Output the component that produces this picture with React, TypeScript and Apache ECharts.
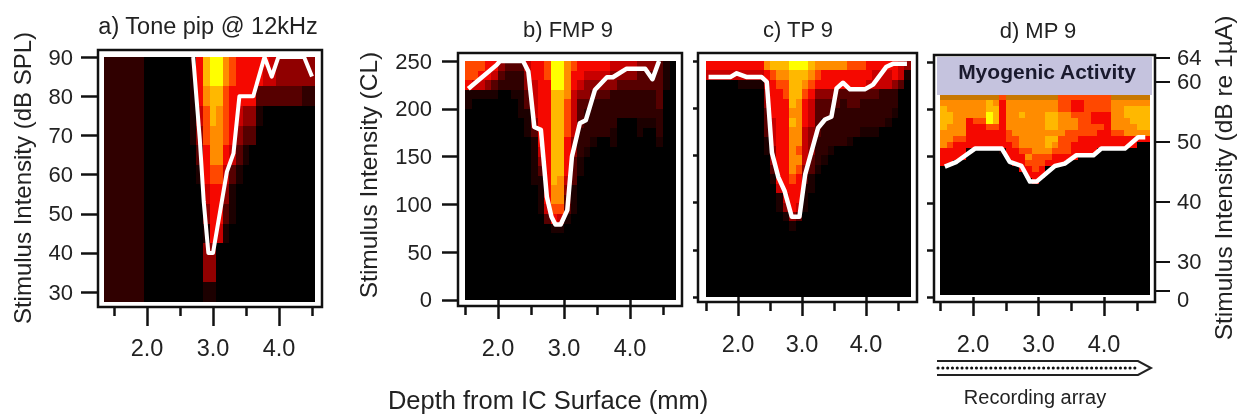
import React, { useEffect, useRef } from "react";
import * as echarts from "echarts";

const FONT = "Liberation Sans";
const INK = "#222";
const RAMP = ["#000000", "#1c0000", "#560000", "#900000", "#c80000", "#f50800", "#ff4800", "#ff8c00", "#ffb800", "#ffff00", "#c87800", "#300000"];

const majorDepth = [2, 3, 4];
const minorDepth = [1.5, 2.5, 3.5, 4.5];
const splTicks = [30, 40, 50, 60, 70, 80, 90];
const clTicks = [0, 50, 100, 150, 200, 250];
const dbTickPositions = [25.17, 30, 40, 50, 60, 64];
const dbLabelPositions = [23.83, 30, 40, 50, 60, 64];

// Each row is one intensity band, top to bottom; each character one channel on the colour ramp.
const heatA = [
  "bbbbbb00000001 5899 76555554333333",
  "bbbbbb00000001 5899 76555544333333",
  "bbbbbb00000001 5788 6 5555 2222222 bb",
  "bbbbbb00000001 468765 4331 00000000",
  "bbbbbb00000001 367765 322 000000000",
  "bbbbbb00000000 257754 21 0000000000",
  "bbbbbb00000000 1 566 4 2 1 00000000000",
  "bbbbbb00000000 0 45531 000000000000",
  "bbbbbb00000000 0355 21 000000000000",
  "bbbbbb000000000 1541 0000000000000",
  "bbbbbb000000000 33 000000000000000",
  "bbbbbb000000000 33 000000000000000",
  "bbbbbb000000000 11 000000000000000",
];
const heatB = [
  "66655 3222 4556 99 76 55555 4444 333 2 10",
  "66554 2bbb 3556 99 75 54444 3333 222 2 10",
  "54432 bbbb 3455 99 75 43333 3222 222 2 10",
  "11111 0011 2455 88 74 33222 bbbb bbb 2 00",
  "10000 0001 2455 88 64 22bbb bbbb bbb 2 00",
  "00000 0001 1455 88 64 2bbbb bbbb bbb b 00",
  "00000 0000 1355 88 64 2bbbb b000 111 b 00",
  "00000 0000 1255 88 64 bbbbb 1000 100 b 00",
  "00000 0000 0155 88 53 bb100 1000 000 1 00",
  "00000 0000 0145 88 53 b1000 0000 000 0 00",
  "00000 0000 0135 88 52 10000 0000 000 0 00",
  "00000 0000 0125 88 52 10000 0000 000 0 00",
  "00000 0000 0115 87 42 00000 0000 000 0 00",
  "00000 0000 0015 77 31 00000 0000 000 0 00",
  "00000 0000 0015 77 21 00000 0000 000 0 00",
  "00000 0000 0014 66 21 00000 0000 000 0 00",
  "00000 0000 0002 54 10 00000 0000 000 0 00",
  "00000 0000 0000 11 00 00000 0000 000 0 00",
];
const heatC = [
  "55555 5555 7888 99 98 77777 6665 555 5 43",
  "44444 4444 5677 88 87 65555 5555 444 5 41",
  "00000 1111 4566 88 76 55555 5554 444 3 20",
  "00000 0000 3556 88 65 33322 2222 2bb b 00",
  "00000 0000 3555 87 54 2222b 22bb bbb b 00",
  "00000 0000 2555 77 54 222bb bbbb bbb 1 00",
  "00000 0000 2455 87 54 2bbbb bbbb bb1 0 00",
  "00000 0000 2455 77 43 2bbbb bb11 100 0 00",
  "00000 0000 1455 77 43 bbbbb 1000 000 0 00",
  "00000 0000 1355 76 43 bb100 0000 000 0 00",
  "00000 0000 0355 77 42 b1000 0000 000 0 00",
  "00000 0000 0255 76 32 10000 0000 000 0 00",
  "00000 0000 0155 65 21 00000 0000 000 0 00",
  "00000 0000 0045 55 11 00000 0000 000 0 00",
  "00000 0000 0014 55 10 00000 0000 000 0 00",
  "00000 0000 0013 54 10 00000 0000 000 0 00",
  "00000 0000 0001 32 00 00000 0000 000 0 00",
  "00000 0000 0000 10 00 00000 0000 000 0 00",
];
const heatD = [
  "aaaa aaa aa 6 aaaa aaaa 6666 6666 aaaaaa",
  "7777 777 87 5 7777 7777 6655 6666 777777",
  "8777 777 88 5 7777 7777 6655 6666 778888",
  "8877 777 98 5 7787 7788 7766 6555 778888",
  "8877 566 98 5 7777 7788 7776 6555 777888",
  "8777 555 66 5 7777 7788 7776 6665 777788",
  "7777 555 55 5 6777 7777 7666 6655 667777",
  "7766 555 55 5 6677 7788 6665 5555 555555",
  "7655 555 55 5 5677 7787 6655 5555 555500",
  "5555 100 00 1 5566 7776 6655 5500 000000",
  "5555 000 00 0 5557 6665 5550 0000 000000",
  "5500 000 00 0 0556 6655 5000 0000 000000",
  "0000 000 00 0 0055 6500 0000 0000 000000",
  "0000 000 00 0 0005 5500 0000 0000 000000",
  "0000 000 00 0 0000 5000 0000 0000 000000",
];

const thresholdA = [[2.7, 90], [2.8, 69], [2.86, 53], [2.93, 40], [3.0, 40], [3.21, 60.7], [3.31, 65.4], [3.4, 80], [3.61, 80], [3.78, 90], [3.89, 85], [3.99, 90], [4.38, 90], [4.5, 85]];
const thresholdB = [[1.55, 221], [1.98, 246], [2.03, 250], [2.38, 250], [2.46, 239], [2.55, 181], [2.65, 178], [2.74, 108], [2.81, 87], [2.87, 79], [2.95, 79], [3.05, 94], [3.12, 150], [3.24, 185], [3.33, 188], [3.47, 220], [3.65, 233], [3.74, 233], [3.95, 242], [4.23, 242], [4.34, 231], [4.44, 250]];
const thresholdC = [[1.54, 233], [1.88, 233], [1.98, 237], [2.14, 233], [2.37, 233], [2.45, 228], [2.53, 153], [2.63, 127], [2.73, 112], [2.84, 85], [2.96, 85], [3.05, 130], [3.25, 179], [3.36, 188], [3.46, 191], [3.54, 221], [3.64, 227], [3.75, 220], [3.98, 220], [4.11, 225], [4.32, 244], [4.42, 247], [4.64, 247]];
const thresholdD = [[1.57, 45.9], [1.75, 46.7], [2.03, 48.9], [2.44, 48.9], [2.56, 46.7], [2.74, 46], [2.87, 43.4], [2.97, 43.4], [3.25, 46], [3.4, 46.4], [3.58, 47.8], [3.84, 47.8], [3.96, 48.9], [4.32, 48.9], [4.52, 50.8], [4.63, 50.8]];

const cells = (rows: string[], x0: number, dx: number, y0: number, dy: number, nRows: number) => {
  const out: number[][] = [];
  for (let j = 0; j < nRows; j++) {
    const row = (rows[j] || "").replace(/ /g, "");
    for (let i = 0; i < 32; i++) out.push([x0 + dx * i, y0 - dy * j, parseInt(row[i] || "0", 36)]);
  }
  return out;
};

const heatSeries = (idx: number, yIdx: number, data: number[][], dx: number, dy: number, top: number, bottom: number) => ({
  type: "custom",
  xAxisIndex: idx * 2,
  yAxisIndex: yIdx,
  silent: true,
  clip: false,
  data,
  renderItem: (_: any, api: any) => {
    const x = api.value(0), y = api.value(1), v = api.value(2);
    const p0 = api.coord([x - dx / 2, Math.min(y + dy / 2, top)]);
    const p1 = api.coord([x + dx / 2, Math.max(y - dy / 2, bottom)]);
    const l = Math.round(p0[0]), t = Math.round(p0[1]), r = Math.round(p1[0]), b = Math.round(p1[1]);
    return { type: "rect", shape: { x: l, y: t, width: r - l, height: b - t }, style: { fill: RAMP[v] } };
  },
});
const lineSeries = (idx: number, yIdx: number, data: number[][], width = 4.5) => ({
  type: "line",
  xAxisIndex: idx * 2,
  yAxisIndex: yIdx,
  data,
  symbol: "none",
  silent: true,
  z: 5,
  lineStyle: { color: "#fff", width, join: "round" },
});

const depthAxes = (gridIndex: number, min: number, max: number, margin: number) => [
  {
    type: "value", gridIndex, position: "bottom", min, max,
    axisLine: { show: false }, splitLine: { show: false },
    axisTick: { customValues: majorDepth, length: 19, lineStyle: { color: "#111", width: 2.5 } },
    axisLabel: { customValues: majorDepth, margin, formatter: (v: number) => v.toFixed(1), fontFamily: FONT, fontSize: 23.5, color: INK },
  },
  {
    type: "value", gridIndex, position: "bottom", min, max,
    axisLine: { show: false }, splitLine: { show: false },
    axisTick: { customValues: minorDepth, length: 9, lineStyle: { color: "#111", width: 2.5 } },
    axisLabel: { show: false },
  },
];
const leftAxis = (gridIndex: number, min: number, max: number, ticks: number[], len: number, labels: boolean, margin = 8) => ({
  type: "value", gridIndex, position: "left", min, max,
  axisLine: { show: false }, splitLine: { show: false },
  axisTick: { customValues: ticks, length: len, lineStyle: { color: "#111", width: 2.5 } },
  axisLabel: labels ? { customValues: ticks, margin, fontFamily: FONT, fontSize: 22, color: INK } : { show: false },
});

const txt = (text: string, x: number, y: number, fontSize: number, extra: any = {}, rotation = 0) => ({
  type: "text", x, y, rotation, z: 100, silent: true,
  style: { text, x: 0, y: 0, align: "center", verticalAlign: "middle", fontFamily: FONT, fontSize, fill: INK, ...extra },
});

export default function App() {
  const ref = useRef<HTMLDivElement>(null);
  useEffect(() => {
    const chart = echarts.init(ref.current!, undefined, { renderer: "svg" });
    const frame = { show: true, borderColor: "#111", borderWidth: 2.5, backgroundColor: "#fff" };
    chart.setOption({
      animation: false,
      backgroundColor: "#fff",
      grid: [
        { ...frame, left: 98, top: 50, width: 224, height: 257 },
        { ...frame, left: 458, top: 53, width: 224, height: 253 },
        { ...frame, left: 698, top: 53, width: 219, height: 249 },
        { ...frame, left: 934, top: 55, width: 221, height: 247 },
      ],
      xAxis: [
        ...depthAxes(0, 1.2576, 4.6515, 29),
        ...depthAxes(1, 2 + (458 - 498) / 66, 2 + (682 - 498) / 66, 30),
        ...depthAxes(2, 2 + (698 - 738) / 64, 2 + (917 - 738) / 64, 30),
        ...depthAxes(3, 2 + (934 - 973) / 65.5, 2 + (1155 - 973) / 65.5, 30),
      ],
      yAxis: [
        leftAxis(0, 26.22, 91.79, splTicks, 17, true, 25),
        leftAxis(1, -6.3, 258.4, clTicks, 16, true, 26),
        leftAxis(2, -5.3, 258.5, clTicks, 5, false),
        leftAxis(3, -5.3, 257.4, clTicks, 7, false),
        {
          type: "value", gridIndex: 3, position: "right", min: 23.33, max: 64.5,
          axisLine: { show: false }, splitLine: { show: false },
          axisTick: { customValues: dbTickPositions, length: 15, lineStyle: { color: "#111", width: 2 } },
          axisLabel: {
            customValues: dbLabelPositions, margin: 22, fontFamily: FONT, fontSize: 22, color: INK,
            formatter: (v: number) => (v < 25 ? "0" : String(v)),
          },
        },
      ],
      series: [
        heatSeries(0, 0, cells(heatA, 1.4, 0.1, 90, 5, 13), 0.1, 5, 90, 27.5),
        lineSeries(0, 0, thresholdA, 4),
        heatSeries(1, 1, cells(heatB, 1.55, 0.1, 245, 10, 25), 0.1, 10, 250, 0),
        lineSeries(1, 1, thresholdB),
        heatSeries(2, 2, cells(heatC, 1.55, 0.1, 245, 10, 25), 0.1, 10, 250, 0),
        lineSeries(2, 2, thresholdC),
        heatSeries(3, 4, cells(heatD, 1.55, 0.1, 57.5, 1, 34), 0.1, 1, 57.8, 24.5),
        lineSeries(3, 4, thresholdD),
      ],
      graphic: {
        elements: [
          { type: "rect", z: 90, silent: true, shape: { x: 937, y: 57, width: 215, height: 38 }, style: { fill: "#c5c3de" } },
          txt("Myogenic Activity", 1047, 71, 21, { fontWeight: "bold", fill: "#1a1a2e" }),
          txt("a) Tone pip @ 12kHz", 208, 26, 23.5),
          txt("b) FMP 9", 568, 29, 22),
          txt("c) TP 9", 798, 29, 22),
          txt("d) MP 9", 1038, 30, 22),
          txt("Stimulus Intensity (dB SPL)", 22, 178, 24, {}, Math.PI / 2),
          txt("Stimulus Intensity (CL)", 368, 175, 24.5, {}, Math.PI / 2),
          txt("Stimulus Intensity (dB re 1µA)", 1223, 178, 24.5, {}, Math.PI / 2),
          txt("Depth from IC Surface (mm)", 548, 400, 25.5),
          txt("Recording array", 1035, 397, 20),
          {
            type: "polyline", z: 90, silent: true,
            shape: { points: [[937, 361], [1138, 361], [1151, 368], [1138, 375], [937, 375]] },
            style: { stroke: "#222", lineWidth: 2, fill: "none" },
          },
          {
            type: "line", z: 90, silent: true,
            shape: { x1: 938, y1: 368, x2: 1137, y2: 368 },
            style: { stroke: "#111", lineWidth: 3, lineDash: [0.1, 4.7], lineCap: "round" },
          },
        ],
      },
    });
    return () => chart.dispose();
  }, []);
  return (
    <div
      ref={ref}
      style={{ position: "absolute", left: 0, top: 0, width: 1244, height: 415, background: "#fff", filter: "blur(0.5px)" }}
    />
  );
}
